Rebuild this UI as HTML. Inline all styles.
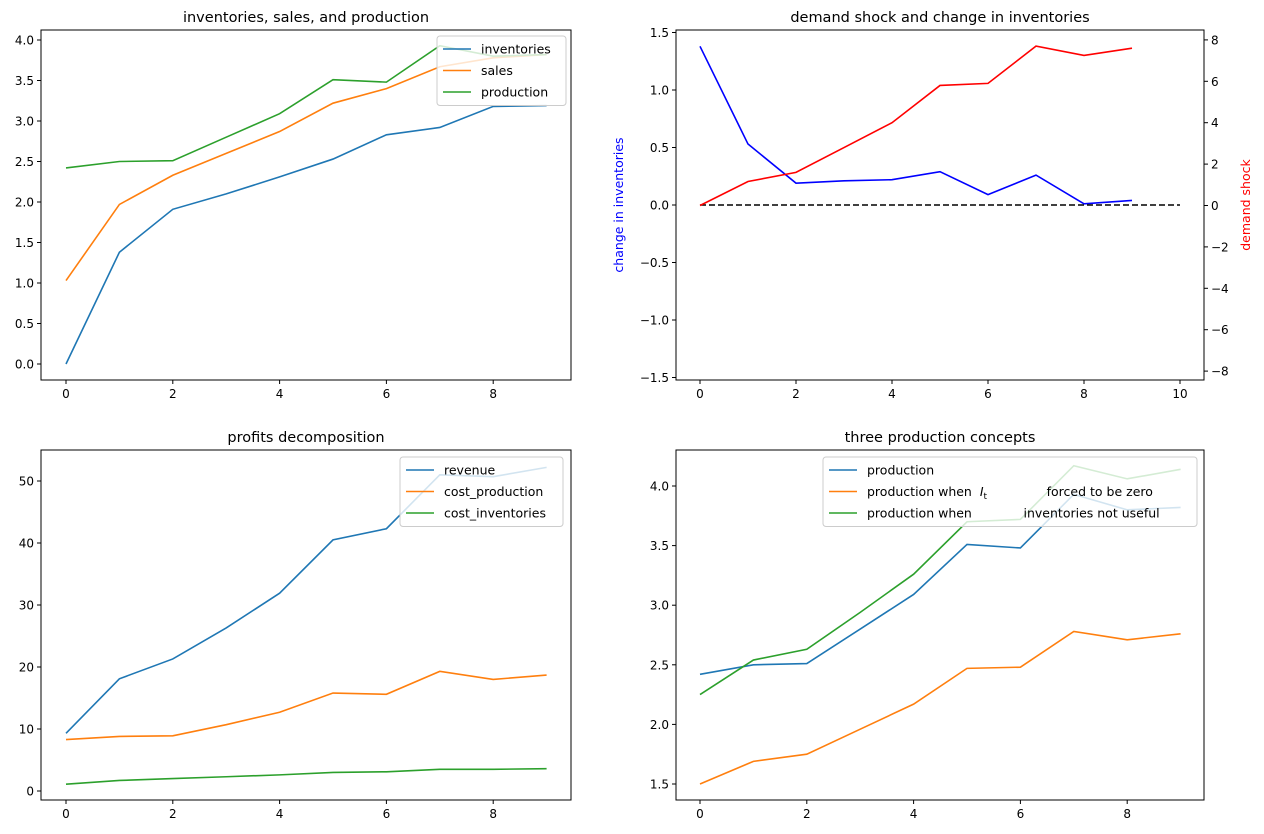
<!DOCTYPE html>
<html><head><meta charset="utf-8"><style>
body{margin:0;background:#fff;}
svg{display:block;font-family:"DejaVu Sans","Liberation Sans",sans-serif;}
</style></head><body>
<svg id="s" width="1264" height="834" xmlns="http://www.w3.org/2000/svg"></svg>
<script>
const S=document.getElementById('s');let h='';
const B='#1f77b4',O='#ff7f0e',G='#2ca02c';
function panel(o){
 const {x0,x1,y0,y1,xa,xm,ym,yv0}=o;
 const X=v=>xa+v*xm, Y=v=>yv0-v*ym;
 o.X=X;o.Y=Y;
 for(const t of o.xt){const px=X(t);h+=`<line x1="${px}" y1="${y1}" x2="${px}" y2="${y1+4}" stroke="#000"/><text x="${px}" y="${y1+18}" font-size="12" text-anchor="middle">${t}</text>`;}
 for(const t of o.yt){const py=Y(t[0]);h+=`<line x1="${x0-4}" y1="${py}" x2="${x0}" y2="${py}" stroke="#000"/><text x="${x0-7}" y="${py+4.5}" font-size="12" text-anchor="end">${t[1]}</text>`;}
 h+=`<text x="${(x0+x1)/2}" y="${y0-8}" font-size="14.5" text-anchor="middle">${o.title}</text>`;
 return o;
}
function line(o,data,col,dash){
 const pts=data.map((v,i)=>`${o.X(i)},${o.Y(v)}`).join(' ');
 h+=`<polyline points="${pts}" fill="none" stroke="${col}" stroke-width="1.6" ${dash?'stroke-dasharray="6,3"':''}/>`;
}
function frame(o){h+=`<rect x="${o.x0}" y="${o.y0}" width="${o.x1-o.x0}" height="${o.y1-o.y0}" fill="none" stroke="#000" stroke-width="1"/>`;}
function legend(x,y,w,items){
 h+=`<rect x="${x}" y="${y}" width="${w}" height="${items.length*21.5+5}" rx="3" fill="#fff" fill-opacity="0.8" stroke="#ccc"/>`;
 items.forEach((it,i)=>{const yy=y+13+i*21.5;h+=`<line x1="${x+6}" y1="${yy}" x2="${x+34}" y2="${yy}" stroke="${it[1]}" stroke-width="1.6"/><text x="${x+44}" y="${yy+4.5}" font-size="12.5" xml:space="preserve">${it[0]}</text>`;});
}
const prod=[2.42,2.50,2.51,2.80,3.09,3.51,3.48,3.93,3.80,3.82];
let p1=panel({x0:41,x1:571,y0:30,y1:380,xa:66,xm:53.4,ym:81,yv0:364,xt:[0,2,4,6,8],yt:[[0,'0.0'],[0.5,'0.5'],[1,'1.0'],[1.5,'1.5'],[2,'2.0'],[2.5,'2.5'],[3,'3.0'],[3.5,'3.5'],[4,'4.0']],title:'inventories, sales, and production'});
line(p1,[0,1.38,1.91,2.10,2.31,2.53,2.83,2.92,3.18,3.19],B);
line(p1,[1.03,1.97,2.33,2.60,2.87,3.22,3.40,3.67,3.78,3.82],O);
line(p1,prod,G);
frame(p1);
legend(437,36,129,[['inventories',B],['sales',O],['production',G]]);
let p2=panel({x0:676,x1:1204,y0:30,y1:380,xa:700,xm:48,ym:115,yv0:205,xt:[0,2,4,6,8,10],yt:[[1.5,'1.5'],[1,'1.0'],[0.5,'0.5'],[0,'0.0'],[-0.5,'−0.5'],[-1,'−1.0'],[-1.5,'−1.5']],title:'demand shock and change in inventories'});
line(p2,[1.38,0.53,0.19,0.21,0.22,0.29,0.09,0.26,0.01,0.04],'blue');
line(p2,[0,0,0,0,0,0,0,0,0,0,0],'#000',true);
const p2r={X:p2.X,Y:v=>205.5-v*20.7};
line(p2r,[0,1.16,1.6,2.8,4.0,5.8,5.9,7.7,7.25,7.6],'red');
for(const t of [8,6,4,2,0,-2,-4,-6,-8]){const py=p2r.Y(t);h+=`<line x1="1204" y1="${py}" x2="1208" y2="${py}" stroke="#000"/><text x="1211" y="${py+4.5}" font-size="12">${t<0?'−'+(-t):t}</text>`;}
h+=`<text transform="translate(623,205) rotate(-90)" font-size="12.5" fill="blue" text-anchor="middle">change in inventories</text>`;
h+=`<text transform="translate(1250,205) rotate(-90)" font-size="12.5" fill="red" text-anchor="middle">demand shock</text>`;
frame(p2);
let p3=panel({x0:41,x1:571,y0:450,y1:800,xa:66,xm:53.4,ym:6.2,yv0:791,xt:[0,2,4,6,8],yt:[[0,'0'],[10,'10'],[20,'20'],[30,'30'],[40,'40'],[50,'50']],title:'profits decomposition'});
line(p3,[9.3,18.1,21.3,26.3,31.9,40.5,42.3,51.0,50.7,52.2],B);
line(p3,[8.3,8.8,8.9,10.7,12.7,15.8,15.6,19.3,18.0,18.7],O);
line(p3,[1.1,1.7,2.0,2.3,2.6,3.0,3.1,3.5,3.5,3.6],G);
frame(p3);
legend(400,457,163,[['revenue',B],['cost_production',O],['cost_inventories',G]]);
let p4=panel({x0:676,x1:1204,y0:450,y1:800,xa:700,xm:53.4,ym:119.2,yv0:486+4*119.2,xt:[0,2,4,6,8],yt:[[1.5,'1.5'],[2,'2.0'],[2.5,'2.5'],[3,'3.0'],[3.5,'3.5'],[4,'4.0']],title:'three production concepts'});
line(p4,prod,B);
line(p4,[1.50,1.69,1.75,1.96,2.17,2.47,2.48,2.78,2.71,2.76],O);
line(p4,[2.25,2.54,2.63,2.94,3.26,3.70,3.72,4.17,4.06,4.14],G);
frame(p4);
legend(823,457,374,[['production',B],['production when  <tspan font-style="italic">I</tspan><tspan font-size="9" dy="3">t</tspan><tspan dy="-3">               forced to be zero</tspan>',O],['production when             inventories not useful',G]]);
S.innerHTML=h;
</script>
</body></html>
